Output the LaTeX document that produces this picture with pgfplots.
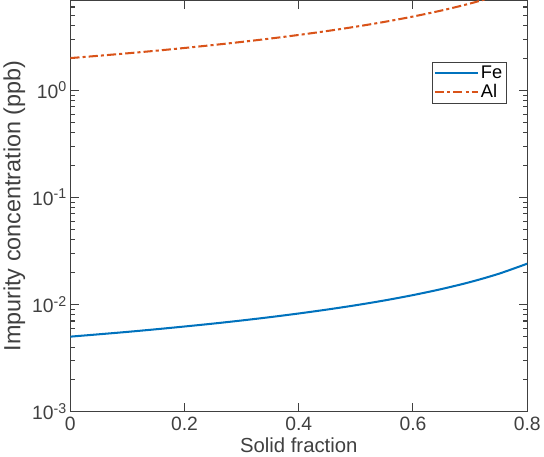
\documentclass[border=0pt]{standalone}
\usepackage{pgfplots}
\pgfplotsset{compat=1.18}
\usepackage{fontspec}
\setmainfont{Liberation Sans}

\definecolor{mblue}{rgb}{0,0.447,0.741}
\definecolor{morange}{rgb}{0.85,0.325,0.098}
\definecolor{axgray}{rgb}{0.25,0.25,0.25}

\begin{document}
\begin{tikzpicture}
\begin{axis}[
    scale only axis,
    width=448bp, height=403bp,
    ymode=log,
    log basis y=10,
    xmin=0, xmax=0.8,
    ymin=1e-3, ymax=6.9,
    xtick={0,0.2,0.4,0.6,0.8},
    xticklabels={0,0.2,0.4,0.6,0.8},
    yticklabel={\pgfmathparse{int(round(\tick))}10\textsuperscript{\fontsize{14}{16}\selectfont\pgfmathresult}},
    xtick pos=both, ytick pos=both,
    tickwidth=8bp,
    subtickwidth=4.5bp,
    axis line style={axgray, line width=0.8pt},
    every tick/.append style={axgray, line width=1pt},
    ticklabel style={font=\fontsize{19}{22}\selectfont, text=axgray},
    xticklabel style={yshift=-2bp},
    xlabel={Solid fraction},
    ylabel={Impurity concentration (ppb)},
    xlabel style={font=\fontsize{20}{24}\selectfont, text=axgray},
    ylabel style={font=\fontsize{23}{27}\selectfont, text=axgray},
    legend style={at={(0.955,0.851)}, anchor=north east,
        font=\fontsize{18}{22}\selectfont, draw=axgray, line width=0.8pt,
        inner sep=2pt, row sep=0pt},
    legend cell align=left,
    legend image code/.code={\draw[#1] (0bp,0bp) -- (42bp,0bp);},
]
\addplot[mblue, line width=2pt, smooth] coordinates {
(0,0.00500) (0.05,0.00526) (0.1,0.00554) (0.15,0.00586) (0.2,0.00622)
(0.25,0.00662) (0.3,0.00708) (0.35,0.00761) (0.4,0.00823) (0.45,0.00896)
(0.5,0.00983) (0.55,0.01089) (0.6,0.01222) (0.65,0.01392) (0.7,0.01617)
(0.75,0.01932) (0.8,0.02401)};
\addlegendentry{Fe}
\addplot[morange, line width=2pt, dash pattern=on 9bp off 3bp on 3bp off 3bp, smooth] coordinates {
(0,2.000) (0.05,2.103) (0.1,2.216) (0.15,2.343) (0.2,2.486)
(0.25,2.648) (0.3,2.832) (0.35,3.044) (0.4,3.291) (0.45,3.582)
(0.5,3.931) (0.55,4.357) (0.6,4.887) (0.65,5.566) (0.7,6.469)
(0.75,7.727) (0.8,9.606)};
\addlegendentry{Al}
\end{axis}
\end{tikzpicture}
\end{document}
